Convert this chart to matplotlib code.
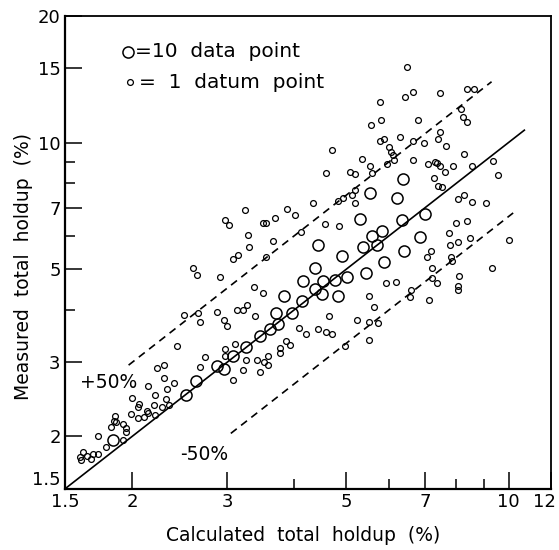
import numpy as np
import matplotlib.pyplot as plt
from matplotlib.ticker import FixedLocator, FixedFormatter, NullFormatter
from matplotlib.transforms import ScaledTranslation

# ------------------------------------------------------------
# Data (calculated vs measured holdup, %)
# ------------------------------------------------------------
# large circles = 10 data points each
x_big = [1.84, 2.52, 2.63, 2.88, 2.96, 3.08, 3.26, 3.46, 3.61, 3.70,
         3.73, 3.97, 3.83, 4.14, 4.15, 4.37, 4.51, 4.38, 4.43, 4.53,
         4.76, 4.82, 4.91, 5.01, 5.36, 5.43, 5.57, 5.69, 5.82, 5.87,
         5.30, 5.53, 6.21, 6.36, 6.34, 6.39, 6.86, 7.00]
y_big = [1.96, 2.51, 2.71, 2.94, 2.90, 3.11, 3.26, 3.47, 3.60, 3.94,
         3.70, 3.93, 4.31, 4.21, 4.69, 4.48, 4.37, 5.03, 5.69, 4.68,
         4.71, 4.31, 5.38, 4.80, 5.64, 4.90, 5.98, 5.72, 6.15, 5.21,
         6.57, 7.59, 7.37, 8.17, 6.55, 5.51, 5.96, 6.77]

# small circles = 1 datum point each
x_small = [6.48, 6.43, 6.66, 7.47, 8.39, 8.61, 5.76, 5.55, 5.79, 6.78,
           8.15, 8.23, 8.39, 7.45, 7.40, 5.78, 5.87, 6.28, 6.66, 6.97,
           7.66, 6.00, 6.05, 6.11, 4.71, 8.27, 5.35, 5.52, 5.96, 6.13,
           6.64, 7.10, 7.29, 7.36, 7.45, 7.87, 7.63, 8.57, 9.34, 9.58,
           4.59, 5.08, 5.18, 5.57, 7.28, 7.40, 7.52, 5.18, 5.13, 5.18,
           4.93, 4.83, 4.34, 3.87, 4.01, 8.05, 8.27, 8.57, 9.10, 3.24,
           2.98, 3.02, 3.50, 3.55, 3.68, 4.57, 4.85, 3.28, 3.29, 3.65,
           4.12, 3.08, 3.15, 3.54, 2.59, 2.64, 2.91, 3.37, 3.50, 5.51,
           2.50, 2.65, 2.67, 2.87, 2.96, 3.00, 3.13, 3.21, 3.27, 3.38,
           4.09, 4.20, 2.42, 2.98, 3.10, 3.86, 3.93, 3.76, 3.76, 4.64,
           4.42, 4.59, 4.70, 3.41, 3.52, 3.57, 3.57, 3.25, 3.46, 5.63,
           5.24, 5.51, 5.72, 5.51, 4.97, 5.91, 6.17, 6.60, 6.57, 7.13,
           8.00, 8.37, 7.76, 7.77, 8.06, 8.49, 10.0, 7.17, 7.05, 7.81,
           7.85, 9.32, 7.22, 8.10, 7.22, 7.35, 8.05, 8.05, 2.73, 2.67,
           2.98, 3.21, 3.08, 2.14, 2.22, 2.29, 2.29, 2.39, 2.32, 2.00,
           2.21, 2.31, 2.34, 2.06, 2.20, 2.27, 1.99, 2.05, 2.13, 2.14,
           2.21, 2.05, 2.10, 1.86, 1.85, 1.92, 1.95, 1.95, 1.83, 1.87,
           1.73, 1.92, 1.79, 1.62, 1.61, 1.65, 1.68, 1.69, 1.73, 1.60]
y_small = [15.1, 12.8, 13.2, 13.1, 13.4, 13.4, 12.5, 11.0, 11.3, 11.3,
           12.0, 11.5, 11.2, 10.6, 10.2, 10.1, 10.2, 10.3, 10.1, 10.0,
           9.80, 9.74, 9.48, 9.36, 9.62, 9.41, 9.13, 8.81, 8.90, 9.11,
           9.11, 8.91, 8.99, 8.94, 8.81, 8.78, 8.53, 8.78, 9.06, 8.39,
           8.46, 8.53, 8.42, 8.46, 8.24, 7.90, 7.85, 7.69, 7.49, 7.18,
           7.36, 7.26, 7.19, 6.95, 6.72, 7.35, 7.52, 7.23, 7.20, 6.92,
           6.55, 6.37, 6.45, 6.45, 6.60, 6.41, 6.34, 6.01, 5.64, 5.84,
           6.13, 5.28, 5.40, 5.33, 5.02, 4.84, 4.78, 4.53, 4.39, 4.31,
           3.88, 3.93, 3.74, 3.95, 3.79, 3.67, 3.99, 3.99, 4.11, 3.86,
           3.62, 3.51, 3.29, 3.23, 3.31, 3.37, 3.30, 3.25, 3.15, 3.86,
           3.60, 3.55, 3.51, 3.04, 3.01, 3.11, 2.96, 3.04, 2.85, 4.06,
           3.79, 3.75, 3.72, 3.39, 3.29, 4.63, 4.66, 4.47, 4.28, 4.23,
           6.43, 6.52, 6.10, 5.69, 5.79, 5.92, 5.87, 5.53, 5.34, 5.34,
           5.24, 5.04, 5.03, 4.82, 4.77, 4.63, 4.56, 4.46, 3.09, 2.92,
           3.10, 2.88, 2.72, 2.63, 2.91, 2.95, 2.76, 2.68, 2.60, 2.47,
           2.51, 2.45, 2.38, 2.39, 2.38, 2.35, 2.26, 2.35, 2.30, 2.27,
           2.25, 2.21, 2.23, 2.24, 2.18, 2.14, 2.10, 2.05, 2.11, 2.16,
           2.00, 1.96, 1.89, 1.84, 1.76, 1.80, 1.77, 1.82, 1.82, 1.79]

# parity line and +/-50 % band extents
fit_x = np.array([1.5, 10.7])
upper_x = np.array([1.97, 9.3])
lower_x = np.array([3.05, 10.2])

x_labels = ['1.5', '2', '3', '5', '7', '10', '12']
y_labels = ['1.5', '2', '3', '5', '7', '10', '15', '20']

# ------------------------------------------------------------
# Plot
# ------------------------------------------------------------
fig = plt.figure(figsize=(5.59, 5.50), dpi=100)
ax = fig.add_axes([0.116, 0.111, 0.870, 0.860])

ax.set_xscale('log')
ax.set_yscale('log')
ax.set_xlim(1.5, 12)
ax.set_ylim(1.5, 20)

ax.plot(fit_x, fit_x, color='black', lw=1.2)
ax.plot(upper_x, 1.5 * upper_x, color='black', lw=1.2, dashes=(4.5, 3.3))
ax.plot(lower_x, lower_x / 1.5, color='black', lw=1.2, dashes=(4.5, 3.3))

ax.plot(x_small, y_small, 'o', ms=4.2, mfc='none', mec='black', mew=0.9)
ax.plot(x_big, y_big, 'o', ms=8.0, mfc='none', mec='black', mew=1.1)

# key in the upper-left corner
ax.plot([0.130], [0.924], 'o', ms=8.0, mfc='none', mec='black', mew=1.1,
        transform=ax.transAxes)
ax.plot([0.134], [0.860], 'o', ms=4.2, mfc='none', mec='black', mew=0.9,
        transform=ax.transAxes)
ax.text(0.145, 0.924, '=10  data  point', transform=ax.transAxes,
        fontsize=14.5, va='center', ha='left')
ax.text(0.152, 0.860, '=  1  datum  point', transform=ax.transAxes,
        fontsize=14.5, va='center', ha='left')

ax.text(0.031, 0.224, '+50%', transform=ax.transAxes, fontsize=13.5,
        va='center', ha='left')
ax.text(0.237, 0.072, '-50%', transform=ax.transAxes, fontsize=13.5,
        va='center', ha='left')

# ticks
xt = [float(v) for v in x_labels]
yt = [float(v) for v in y_labels]
ax.xaxis.set_major_locator(FixedLocator(xt))
ax.xaxis.set_major_formatter(FixedFormatter(x_labels))
ax.xaxis.set_minor_locator(FixedLocator([4, 6, 8, 9]))
ax.xaxis.set_minor_formatter(NullFormatter())
ax.yaxis.set_major_locator(FixedLocator(yt))
ax.yaxis.set_major_formatter(FixedFormatter(y_labels))
ax.yaxis.set_minor_locator(FixedLocator([4, 6, 8, 9]))
ax.yaxis.set_minor_formatter(NullFormatter())

ax.tick_params(which='major', direction='in', length=12, width=1.1,
               labelsize=13, pad=3)
ax.tick_params(which='minor', direction='in', length=7.5, width=1.1)

for side in ['left', 'bottom']:
    ax.spines[side].set_linewidth(1.6)
for side in ['top', 'right']:
    ax.spines[side].set_linewidth(1.3)

ax.set_xlabel('Calculated  total  holdup  (%)', fontsize=13.5)
ax.set_ylabel('Measured  total  holdup  (%)', fontsize=13.5)
ax.xaxis.set_label_coords(0.49, -0.078)
ax.yaxis.set_label_coords(-0.066, 0.47)

# corner labels: lift the y "1.5" above the corner, pull the x "12" inside
fig.canvas.draw()
ax.get_yticklabels()[0].set_va('bottom')
last = ax.get_xticklabels()[-1]
last.set_transform(last.get_transform() +
                   ScaledTranslation(-0.07, 0, fig.dpi_scale_trans))

plt.savefig('out.png', dpi=100)
